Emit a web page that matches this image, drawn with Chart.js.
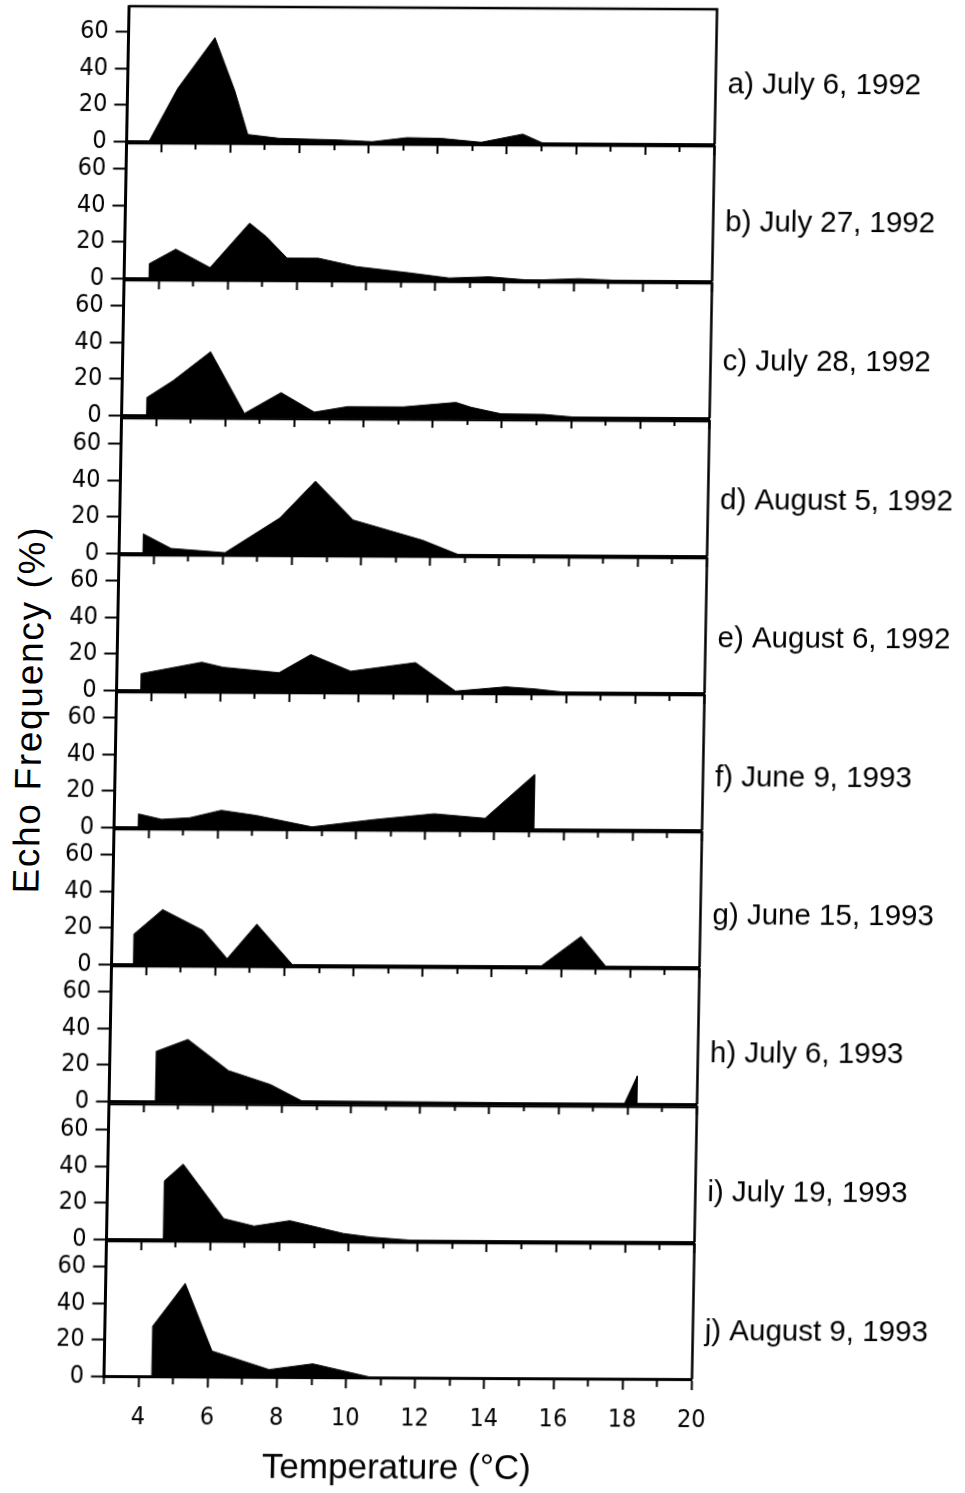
<!DOCTYPE html>
<html>
<head>
<meta charset="utf-8">
<script src="https://cdn.jsdelivr.net/npm/chart.js@4.4.1/dist/chart.umd.min.js"></script>
<style>
  html, body { margin: 0; padding: 0; background: #fff; }
  #figure {
    position: relative; width: 965px; height: 1493px; overflow: hidden;
    transform: rotate(0.3deg) skewX(-0.75deg); transform-origin: 482px 694px;
  }
  #figure canvas { position: absolute; left: 0; }
  #ytitle {
    position: absolute; left: 30px; top: 712px; color: #000;
    transform: translate(-50%, -50%) rotate(-90deg);
    font: 37px 'Liberation Sans', Arial, sans-serif; letter-spacing: 1.7px; white-space: nowrap;
  }
</style>
</head>
<body>
<div id="figure">
  <div id="ytitle">Echo Frequency (%)</div>
</div>
<script>
var FONT = "'Liberation Sans', Arial, Helvetica, sans-serif";
var NARROW = "'Liberation Sans Narrow', 'Arial Narrow', 'DejaVu Sans Condensed', 'Liberation Sans', sans-serif";

var panelLabels = [
    'a) July 6, 1992', 'b) July 27, 1992', 'c) July 28, 1992', 'd) August 5, 1992',
    'e) August 6, 1992', 'f) June 9, 1993', 'g) June 15, 1993', 'h) July 6, 1993',
    'i) July 19, 1993', 'j) August 9, 1993'
];

// temperature (deg C) / echo frequency (%) outline of each panel
var tempA = [3.65, 4.45, 5.5, 6.1, 6.5, 7.4, 9.1, 10.1, 11.1, 12.1, 13.25, 14.45, 15.05];
var freqA = [0, 29, 57, 28, 4, 2, 1.3, 0.4, 2.7, 2.4, 0.4, 5, 0];
var tempB = [3.72, 3.72, 4.48, 5.48, 6.6, 7.1, 7.7, 8.6, 9.7, 11.2, 12.4, 13.55, 14.75, 16.15, 17.5];
var freqB = [0, 8, 16, 6, 30.5, 23, 11.5, 11.5, 7, 3.8, 1, 1.8, 0, 1, 0];
var tempC = [3.72, 3.72, 4.47, 5.54, 6.55, 7.6, 8.57, 9.53, 11.14, 12.66, 13.1, 13.97, 15.2, 16.2];
var freqC = [0, 9.7, 19, 35, 1.3, 12.8, 2.2, 5.3, 5.3, 7.9, 5.3, 1.8, 1.6, 0];
var tempD = [3.69, 3.69, 4.5, 6.06, 7.63, 8.64, 9.75, 11.77, 12.83];
var freqD = [0, 10.6, 2.7, 0.5, 19.7, 40, 18.8, 7.9, 0];
var tempE = [3.7, 3.7, 5.45, 6.07, 7.69, 8.6, 9.76, 11.63, 12.8, 14.25, 15.1, 16.0];
var freqE = [0, 9.1, 15.5, 12.8, 10, 20, 11, 15.9, 0.4, 2.9, 1.8, 0];
var tempF = [3.7, 3.7, 4.37, 5.18, 6.09, 7.1, 8.72, 10.54, 12.25, 13.72, 15.13, 15.13];
var freqF = [0, 7.3, 4.4, 5.3, 9.5, 6.8, 0.7, 4.9, 8.2, 5.9, 30, 0];
var tempG = [3.63, 3.63, 4.45, 5.62, 6.34, 7.18, 8.24, 15.41, 16.56, 17.3];
var freqG = [0, 16.5, 30, 18.8, 3.3, 22.3, 0, 0, 16.5, 0];
var tempH = [4.34, 4.34, 5.25, 6.44, 7.66, 8.57, 17.9, 18.26, 18.26];
var freqH = [0, 27.4, 34, 17, 9.5, 0.7, 0, 15.3, 0];
var tempI = [4.64, 4.64, 5.18, 6.38, 7.26, 8.29, 9.85, 10.65, 11.96];
var freqI = [0, 32, 41.3, 11.5, 7.5, 10.6, 3.7, 1.8, 0];
var tempJ = [4.38, 4.38, 5.3, 6.11, 7.77, 9.03, 10.73];
var freqJ = [0, 27.4, 51, 14, 4, 7.3, 0];

var panelTemps = [tempA, tempB, tempC, tempD, tempE, tempF, tempG, tempH, tempI, tempJ];
var panelFreqs = [freqA, freqB, freqC, freqD, freqE, freqF, freqG, freqH, freqI, freqJ];

var xTickLabels = [4, 6, 8, 10, 12, 14, 16, 18, 20];
var yTickLabels = [0, 20, 40, 60];

// layout of the stacked panels
var PLOT_LEFT = 116.5, PLOT_RIGHT = 704.5, PLOT_H = 137;
var PAD_TOP = 20, X_AREA_H = 115, FIRST_BASE = 143, PITCH = 137.2;

Chart.defaults.font.family = FONT;
Chart.defaults.color = '#000';

// box round each panel (top and right edges)
var framePlugin = {
    id: 'frame',
    afterDraw: function (chart) {
        var a = chart.chartArea, ctx = chart.ctx;
        ctx.save();
        ctx.strokeStyle = '#000';
        ctx.lineWidth = 2.5;
        ctx.beginPath();
        ctx.moveTo(a.left, a.top);
        ctx.lineTo(a.right, a.top);
        ctx.lineTo(a.right, a.bottom);
        ctx.stroke();
        ctx.restore();
    }
};

// date label to the right of each panel, set a little lower down the stack
var labelPlugin = {
    id: 'panelLabel',
    afterDraw: function (chart, args, opts) {
        var ctx = chart.ctx;
        var level = 32.4 - 0.71 * opts.index;
        ctx.save();
        ctx.font = '29.5px ' + FONT;
        ctx.fillStyle = '#000';
        ctx.textAlign = 'left';
        ctx.textBaseline = 'middle';
        ctx.fillText(opts.text, chart.chartArea.right + 12, chart.scales.y.getPixelForValue(level));
        ctx.restore();
    }
};

var fig = document.getElementById('figure');

function renderPanel(k) {
    var last = k === panelLabels.length - 1;
    var base = Math.round(FIRST_BASE + PITCH * k);
    var canvas = document.createElement('canvas');
    canvas.width = 965;
    canvas.height = PAD_TOP + PLOT_H + X_AREA_H;
    canvas.style.top = (base - PLOT_H - PAD_TOP) + 'px';
    fig.appendChild(canvas);

    var points = panelTemps[k].map(function (t, i) {
        return {x: t, y: panelFreqs[k][i]};
    });

    new Chart(canvas.getContext('2d'), {
        type: 'line',
        data: {
            datasets: [{
                data: points,
                fill: 'origin',
                backgroundColor: '#000',
                borderColor: '#000',
                borderWidth: 1,
                pointRadius: 0,
                tension: 0
            }]
        },
        options: {
            responsive: false,
            animation: false,
            events: [],
            layout: {padding: {left: 0, right: 965 - PLOT_RIGHT, top: PAD_TOP, bottom: 0}},
            plugins: {
                legend: {display: false},
                tooltip: {enabled: false},
                panelLabel: {text: panelLabels[k], index: k}
            },
            scales: {
                x: {
                    type: 'linear',
                    min: 3,
                    max: 20,
                    ticks: {
                        stepSize: 1,
                        display: last,
                        autoSkip: false,
                        maxRotation: 0,
                        padding: 15,
                        font: {size: 25, family: NARROW},
                        callback: function (v) {
                            return xTickLabels.indexOf(v) >= 0 ? String(v) : '';
                        }
                    },
                    grid: {
                        drawOnChartArea: false,
                        tickLength: 11,
                        tickWidth: 2,
                        tickColor: '#000',
                        // odd degrees get a shorter mark
                        tickBorderDash: function (c) {
                            return c.tick && c.tick.value % 2 === 1 ? [6, 100] : [];
                        }
                    },
                    border: {display: true, color: '#000', width: 3},
                    title: {
                        display: last,
                        text: 'Temperature (°C)',
                        font: {size: 35},
                        color: '#000',
                        padding: {top: 0, bottom: 3}
                    },
                    afterFit: function (s) { s.height = X_AREA_H; }
                },
                y: {
                    min: 0,
                    max: 74,
                    ticks: {
                        stepSize: 10,
                        padding: 7,
                        font: {size: 25, family: NARROW},
                        callback: function (v) {
                            return yTickLabels.indexOf(v) >= 0 ? String(v) : '';
                        }
                    },
                    afterBuildTicks: function (s) {
                        s.ticks = s.ticks.filter(function (t) { return t.value % 10 === 0; });
                    },
                    grid: {
                        drawOnChartArea: false,
                        tickLength: 13,
                        tickWidth: 2,
                        tickColor: '#000',
                        tickBorderDash: function (c) {
                            return c.tick && c.tick.value % 20 === 10 ? [0, 8, 5, 100] : [];
                        }
                    },
                    border: {display: true, color: '#000', width: 3},
                    afterFit: function (s) { s.width = PLOT_LEFT; }
                }
            }
        },
        plugins: [framePlugin, labelPlugin]
    });
}

for (var k = 0; k < panelLabels.length; k++) {
    renderPanel(k);
}
</script>
</body>
</html>
